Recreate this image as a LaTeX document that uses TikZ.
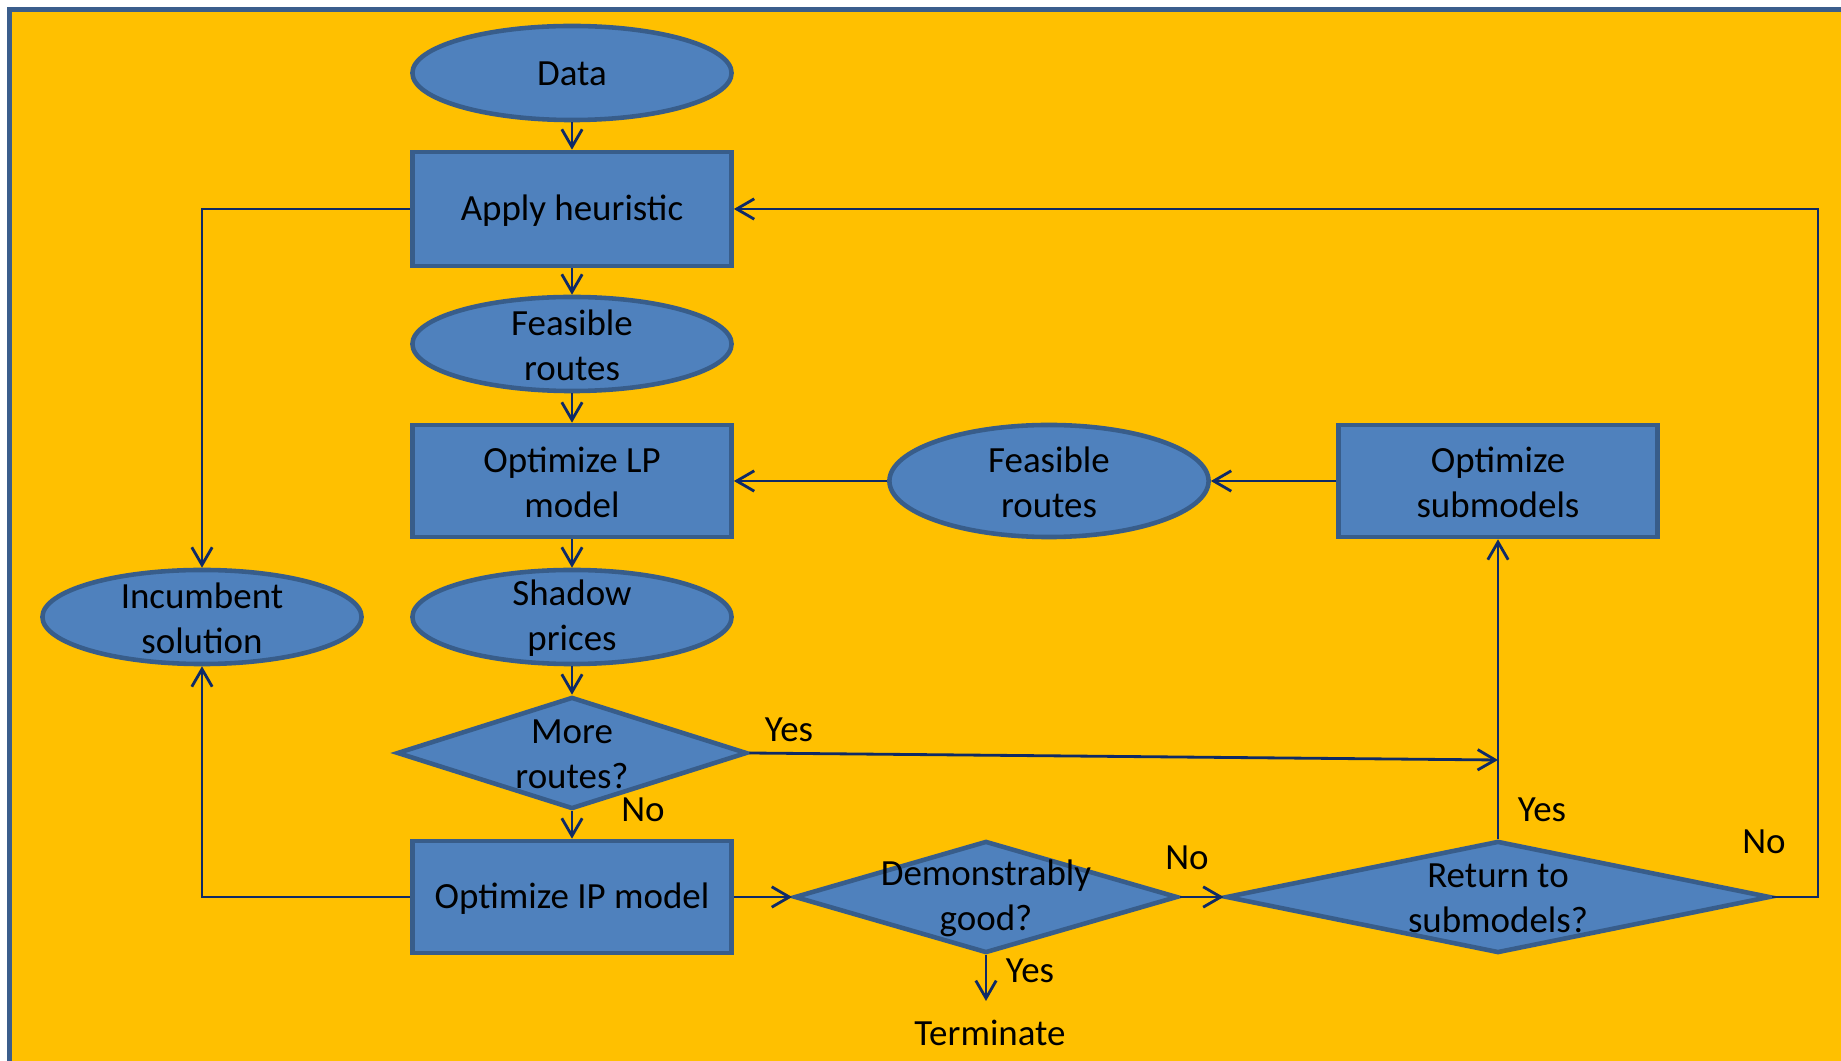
\documentclass[tikz,border=0pt]{standalone}
\usepackage{fontspec}
\setmainfont{Carlito}
\usetikzlibrary{shapes.geometric,arrows.meta}
\definecolor{pagebg}{HTML}{FFC000}
\definecolor{shapefill}{HTML}{4F81BD}
\definecolor{shapeline}{HTML}{385D8A}
\definecolor{wirecol}{HTML}{0F2A66}
\definecolor{framecol}{HTML}{3B5E8C}

\begin{document}
\begin{tikzpicture}[x=0.01cm,y=-0.01cm,
  font=\fontsize{10.5pt}{12.6pt}\selectfont,
  shapebase/.style={draw=shapeline,fill=shapefill,line width=1.3pt,inner sep=0pt},
  blob/.style={shapebase,ellipse,minimum width=3.19cm,minimum height=0.94cm},
  box/.style={shapebase,rectangle,minimum width=3.19cm,minimum height=1.12cm},
  choice/.style={shapebase,diamond},
  txt/.style={align=center,inner sep=0pt,yshift=-0.35pt},
  lbl/.style={inner sep=0pt},
  wire/.style={draw=wirecol,line width=0.8pt},
  flow/.style={wire,-{Straight Barb[length=5pt,width=5.8pt]}}
]
% page and frame
\useasboundingbox (0,0) rectangle (1841,1061);
\fill[white] (0,0) rectangle (1841,1061);
\begin{scope}
  \clip (0,0) rectangle (1841,1061);
  \draw[framecol,line width=1.4pt,fill=pagebg] (9.5,9.5) rectangle (1900,1120);
\end{scope}

% main column
\node[blob] (data) at (572,73) {};
\node[txt] (data-t) at (data) {Data};
\node[box,minimum height=1.14cm] (heur) at (572,209) {};
\node[txt] (heur-t) at (heur) {Apply heuristic};
\node[blob] (feas1) at (572,344) {};
\node[txt] (feas1-t) at (feas1) {Feasible\\routes};
\node[box] (lp) at (572,481) {};
\node[txt] (lp-t) at (lp) {Optimize LP\\model};
\node[blob] (shadow) at (572,617) {};
\node[txt] (shadow-t) at (shadow) {Shadow\\prices};
\node[choice,minimum width=3.5cm,minimum height=1.12cm] (more) at (572,753) {};
\node[txt] (more-t) at (more) {More\\routes?};
\node[box] (ip) at (572,897) {};
\node[txt] (ip-t) at (ip) {Optimize IP model};

% side nodes
\node[blob] (inc) at (202,617) {};
\node[txt] (inc-t) at (inc) {Incumbent\\solution};
\node[blob,minimum height=1.12cm] (feas2) at (1049,481) {};
\node[txt] (feas2-t) at (feas2) {Feasible\\routes};
\node[box] (sub) at (1498,481) {};
\node[txt] (sub-t) at (sub) {Optimize\\submodels};
\node[choice,minimum width=3.83cm,minimum height=1.12cm] (good) at (986,897) {};
\node[txt] (good-t) at (good) {Demonstrably\\good?};
\node[choice,minimum width=5.44cm,minimum height=1.12cm] (ret) at (1498,897) {};
\node[txt] (ret-t) at (ret) {Return to\\submodels?};
\node[lbl] (term) at (990,1033) {Terminate};

% helper points
\coordinate (yesjoin) at (1498,760);
\coordinate (loop) at (1818,897);
\coordinate (stop) at (986,1001);

% connectors
\draw[flow] (data) -- (heur);
\draw[flow] (heur) -- (feas1);
\draw[flow] (feas1) -- (lp);
\draw[flow] (lp) -- (shadow);
\draw[flow] (shadow) -- (more.north);
\draw[flow] (more.south) -- (ip);
\draw[flow] (ip) -- (good.west);
\draw[flow] (good.east) -- (ret.west);
\draw[flow] (good.south) -- (stop);
\draw[flow] (heur.west) -| (inc.north);
\draw[flow] (ip.west) -| (inc.south);
\draw[flow] (sub) -- (feas2);
\draw[flow] (feas2) -- (lp);
\draw[flow] (ret.north) -- (sub.south);
\draw[flow] (more.east) -- (yesjoin);
\draw[flow] (ret.east) -- (loop) |- (heur.east);

% branch labels
\node[lbl] (l-more-yes) at (789,730) {Yes};
\node[lbl] (l-more-no) at (643,810) {No};
\node[lbl] (l-good-no) at (1187,858) {No};
\node[lbl] (l-good-yes) at (1030,971) {Yes};
\node[lbl] (l-ret-yes) at (1542,810) {Yes};
\node[lbl] (l-ret-no) at (1764,842) {No};
\end{tikzpicture}
\end{document}
